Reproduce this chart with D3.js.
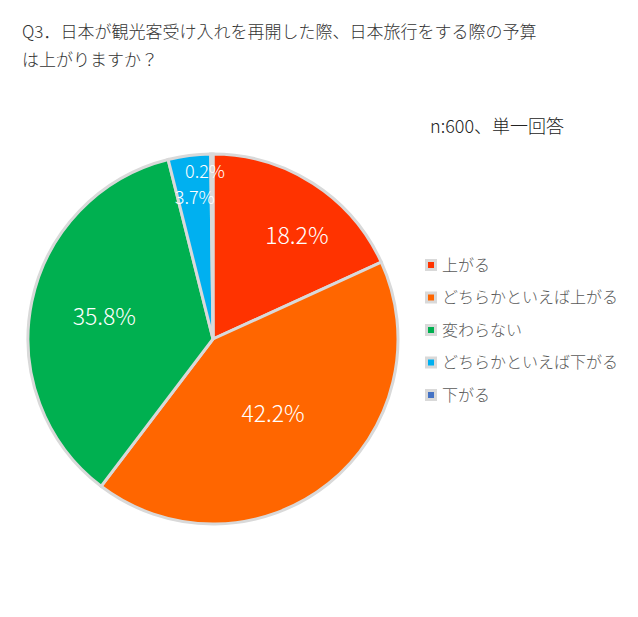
<!DOCTYPE html><html><head><meta charset="utf-8"><script src="https://cdn.jsdelivr.net/npm/d3@7"></script>
<style>body{margin:0;background:#fff}text{font-family:"Noto Sans CJK JP",sans-serif;font-weight:300}</style></head><body>
<svg id="c" width="638" height="617"></svg>
<script>
const categories=["上がる","どちらかといえば上がる","変わらない","どちらかといえば下がる","下がる"];
const values=[18.2,42.2,35.8,3.7,0.2];
const colors=["#ff3300","#ff6600","#00b050","#00b0f0","#4472c4"];
const svg=d3.select("#c");
svg.append("text").attr("x",22).attr("y",38).attr("font-size",17).attr("fill","#333").text("Q3．日本が観光客受け入れを再開した際、日本旅行をする際の予算");
svg.append("text").attr("x",22).attr("y",66).attr("font-size",17).attr("fill","#333").text("は上がりますか？");
svg.append("text").attr("x",430).attr("y",133).attr("font-size",18).attr("fill","#222").text("n:600、単一回答");
const cx=213,cy=339,R=185;
const pie=d3.pie().sort(null).value(d=>d)(values);
const g=svg.append("g").attr("transform",`translate(${cx},${cy})`);
const arc=d3.arc().innerRadius(0).outerRadius(R);
g.selectAll("path").data(pie).join("path").attr("d",arc).attr("fill",(d,i)=>colors[i]).attr("stroke","#d9d9d9").attr("stroke-width",3);
const lr=[0.72,0.52,0.6,0.77,0.9];
const da=[0.11,0,0,0,0];
const fs=[23,23,23,18,18];
pie.forEach((d,i)=>{
 const a=(d.startAngle+d.endAngle)/2+da[i];
 let r=R*lr[i];
 let x=Math.sin(a)*r,y=-Math.cos(a)*r;
 if(i===4){x=-8;y=-167;}
 g.append("text").attr("x",x).attr("y",y).attr("dy","0.35em").attr("text-anchor","middle").attr("font-size",fs[i]).attr("fill","#fff").text(values[i].toFixed(1)+"%");
});
const lg=svg.append("g");
categories.forEach((c,i)=>{
 const y=265+i*32.5;
 lg.append("rect").attr("x",425).attr("y",y-6).attr("width",12).attr("height",12).attr("fill","#d9d9d9");
 lg.append("rect").attr("x",428).attr("y",y-3).attr("width",6).attr("height",6).attr("fill",colors[i]);
 lg.append("text").attr("x",442).attr("y",y).attr("dy","0.35em").attr("font-size",16).attr("fill","#595959").text(c);
});
</script></body></html>
